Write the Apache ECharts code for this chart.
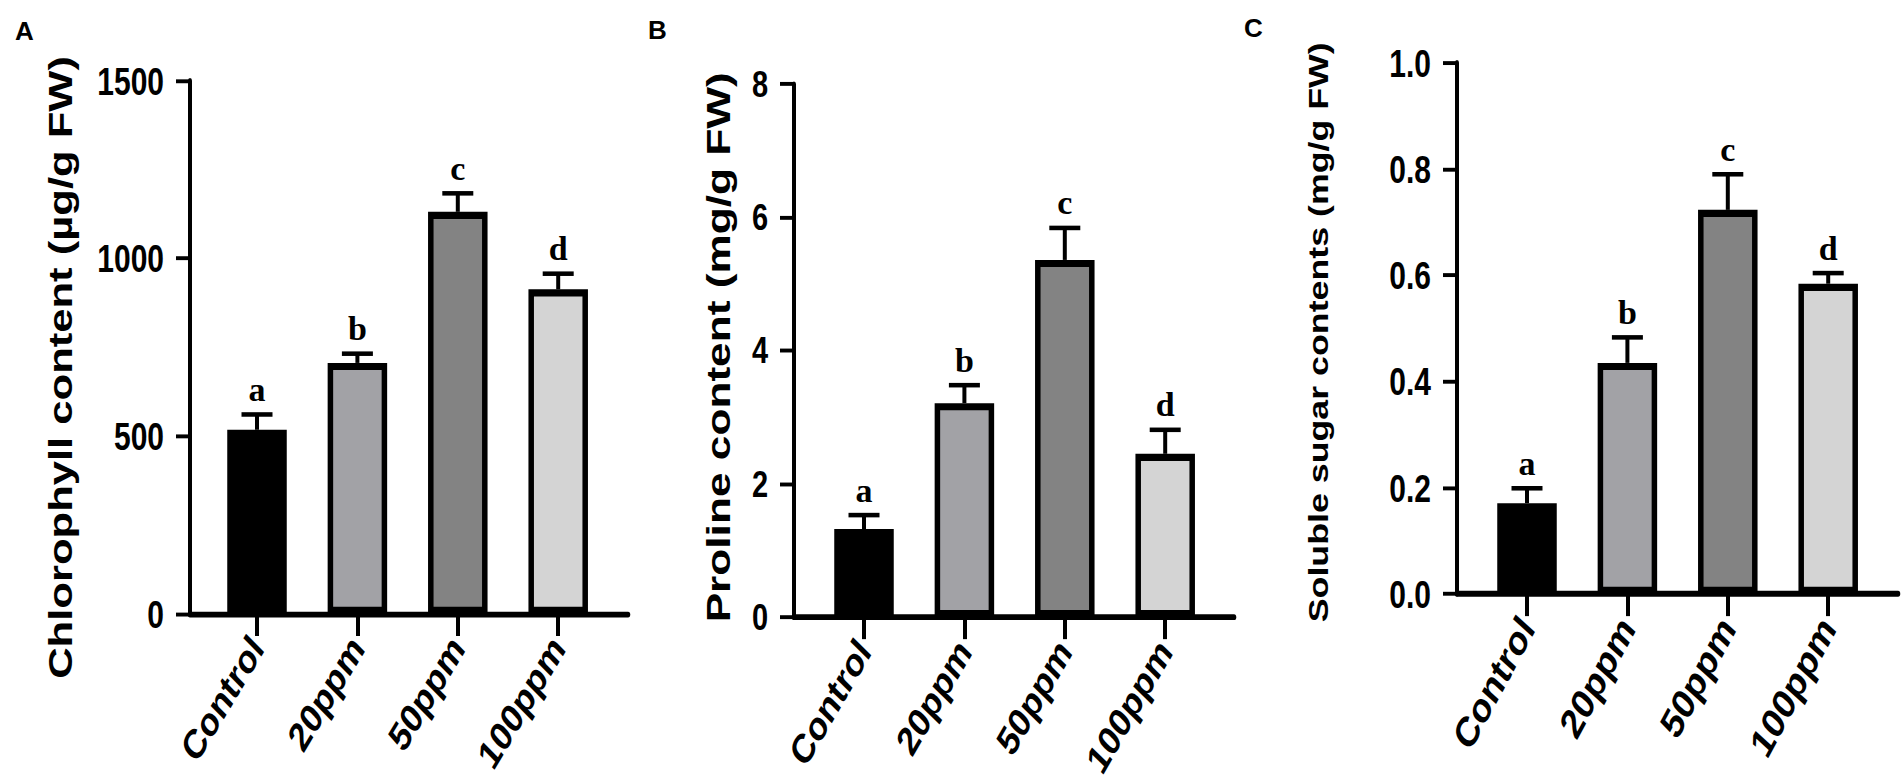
<!DOCTYPE html>
<html>
<head>
<meta charset="utf-8">
<title>Chlorophyll, proline and soluble sugar contents</title>
<script src="https://cdn.jsdelivr.net/npm/echarts@6/dist/echarts.min.js"></script>
<style>
html,body{margin:0;padding:0;background:#fff;}
#wrap{position:relative;width:1904px;height:783px;overflow:hidden;background:#fff;}
/* the original figure is stretched vertically, so the chart is drawn flatter and scaled in Y */
#main{position:absolute;left:0;top:0;width:1904px;height:602px;transform:scaleY(1.300664);transform-origin:0 0;}
#marks{position:absolute;left:0;top:0;width:1904px;height:783px;}
</style>
</head>
<body>
<div id="wrap">
  <div id="main"></div>
  <div id="marks"></div>
</div>
<script>
var categories=['Control','20ppm','50ppm','100ppm'];
var letters=['a','b','c','d'];
var barColors=['#000000','#a2a2a6','#838383','#d4d4d4'];

var chlMean=[518,706,1131,913];
var chlErr=[43,26,52,44];
var chlTicks=[0,500,1000,1500];

var proMean=[1.32,3.21,5.36,2.45];
var proErr=[0.21,0.27,0.48,0.36];
var proTicks=[0,2,4,6,8];

var sugMean=[0.171,0.435,0.723,0.584];
var sugErr=[0.028,0.048,0.067,0.020];
var sugTicks=[0,0.2,0.4,0.6,0.8,1.0];

var SCALE=783/602;
var BAND=100.4;
var SANS='"Liberation Sans", Arial, sans-serif';
var SERIF='"Liberation Serif", "Times New Roman", serif';

// layout of each panel (px of the unstretched #main)
var panels=[
    {mean:chlMean,err:chlErr,ticks:chlTicks,digits:0,name:'Chlorophyll content (\u00b5g/g FW)',
     x:190,w:438,top:62,h:410,offset:67,nameSize:33.5,nameGap:113,namePad:[0,31,0,0],
     tickSize:30,labelRotate:52,labelSize:31.5},
    {mean:proMean,err:proErr,ticks:proTicks,digits:0,name:'Proline content (mg/g FW)',
     x:794,w:440,top:64.6,h:409.8,offset:70,nameSize:34,nameGap:59,namePad:[0,0,0,5],
     tickSize:29,labelRotate:53,labelSize:31.5},
    {mean:sugMean,err:sugErr,ticks:sugTicks,digits:1,name:'Soluble sugar contents (mg/g FW)',
     x:1457,w:441,top:48.2,h:408.5,offset:70,nameSize:27.5,nameGap:124,namePad:[0,6,0,0],
     tickSize:30,labelRotate:55,labelSize:32.5}
];

function innerLeft(p){
    return p.x+p.offset-BAND/2;
}

function buildMain(){
    var grid=[],xAxis=[],yAxis=[],series=[];
    $each(panels,function(i,p){
        var g=grid.length;
        var min=p.ticks[0],max=p.ticks[p.ticks.length-1],step=p.ticks[1]-p.ticks[0];
        grid.push({left:p.x,top:p.top,width:p.w,height:p.h,outerBoundsMode:'none'});
        grid.push({left:innerLeft(p),top:p.top,width:BAND*4,height:p.h,outerBoundsMode:'none'});

        // outer grid only carries the axis lines, ticks and y labels
        xAxis.push({gridIndex:g,type:'value',min:0,max:1,
            axisLine:{show:true,onZero:false,lineStyle:{color:'#000',width:4.5}},
            axisTick:{show:false},axisLabel:{show:false},splitLine:{show:false}});
        yAxis.push({gridIndex:g,type:'value',min:min,max:max,interval:step,
            axisLine:{show:true,lineStyle:{color:'#000',width:4}},
            axisTick:{show:true,length:14,lineStyle:{color:'#000',width:3}},
            axisLabel:{margin:26,color:'#000',fontSize:p.tickSize,fontWeight:'bold',fontFamily:SANS,
                formatter:function(v){return v.toFixed(p.digits);}},
            splitLine:{show:false},
            name:p.name,nameLocation:'middle',nameGap:p.nameGap,
            nameTextStyle:{color:'#000',fontSize:p.nameSize,fontWeight:'bold',fontFamily:SANS,padding:p.namePad}});

        // inner grid holds the bars and the category ticks
        // (the stretch alone gives the labels their slanted look)
        xAxis.push({gridIndex:g+1,type:'category',data:categories,
            axisLine:{show:false},
            axisTick:{show:true,alignWithLabel:true,length:17,lineStyle:{color:'#000',width:4}},
            axisLabel:{interval:0,rotate:p.labelRotate,margin:21,color:'#000',fontSize:p.labelSize,
                fontWeight:'bold',fontFamily:SANS}});
        yAxis.push({gridIndex:g+1,type:'value',min:min,max:max,show:false});

        series.push({type:'bar',xAxisIndex:g+1,yAxisIndex:g+1,barWidth:59.5,silent:true,
            itemStyle:{borderColor:'#000',borderWidth:5.5},
            data:p.mean.map(function(v,k){return {value:v,itemStyle:{color:barColors[k]}};})});
        series.push({type:'custom',xAxisIndex:g+1,yAxisIndex:g+1,silent:true,z:3,
            encode:{x:0,y:2},
            data:p.mean.map(function(v,k){return [k,v,v+p.err[k]];}),
            renderItem:function(params,api){
                var base=api.coord([api.value(0),api.value(1)]);
                var top=api.coord([api.value(0),api.value(2)]);
                return {type:'group',children:[
                    {type:'line',shape:{x1:base[0],y1:base[1],x2:top[0],y2:top[1]},
                     style:{stroke:'#000',lineWidth:4}},
                    {type:'line',shape:{x1:top[0]-15.5,y1:top[1],x2:top[0]+15.5,y2:top[1]},
                     style:{stroke:'#000',lineWidth:3.5}}
                ]};
            }});
    });
    return {backgroundColor:'#fff',animation:false,grid:grid,xAxis:xAxis,yAxis:yAxis,series:series};
}

// letters are not stretched in the original, so they live in an overlay at true scale
function buildMarks(){
    var grid=[],xAxis=[],yAxis=[],series=[];
    $each(panels,function(i,p){
        var min=p.ticks[0],max=p.ticks[p.ticks.length-1];
        grid.push({left:innerLeft(p),top:p.top*SCALE,width:BAND*4,height:p.h*SCALE,outerBoundsMode:'none'});
        xAxis.push({gridIndex:i,type:'category',data:categories,show:false});
        yAxis.push({gridIndex:i,type:'value',min:min,max:max,show:false});
        series.push({type:'custom',xAxisIndex:i,yAxisIndex:i,silent:true,
            encode:{x:0,y:1},
            data:p.mean.map(function(v,k){return [k,v+p.err[k]];}),
            renderItem:function(params,api){
                var pt=api.coord([api.value(0),api.value(1)]);
                return {type:'text',x:pt[0],y:pt[1]-8,
                    style:{text:letters[params.dataIndex],fill:'#000',fontSize:34,fontWeight:'bold',
                        fontFamily:SERIF,align:'center',verticalAlign:'bottom'}};
            }});
    });
    var titleStyle={color:'#000',fontSize:26,fontWeight:'bold',fontFamily:SANS};
    return {animation:false,
        title:[
            {text:'A',left:15,top:18,padding:0,textStyle:titleStyle},
            {text:'B',left:648,top:17,padding:0,textStyle:titleStyle},
            {text:'C',left:1244,top:15,padding:0,textStyle:titleStyle}
        ],
        grid:grid,xAxis:xAxis,yAxis:yAxis,series:series};
}

function $each(arr,fn){
    for(var i=0;i<arr.length;i++){fn(i,arr[i]);}
}

var mainChart=echarts.init(document.getElementById('main'),null,{renderer:'svg'});
mainChart.setOption(buildMain());
var marksChart=echarts.init(document.getElementById('marks'),null,{renderer:'svg'});
marksChart.setOption(buildMarks());
</script>
</body>
</html>
